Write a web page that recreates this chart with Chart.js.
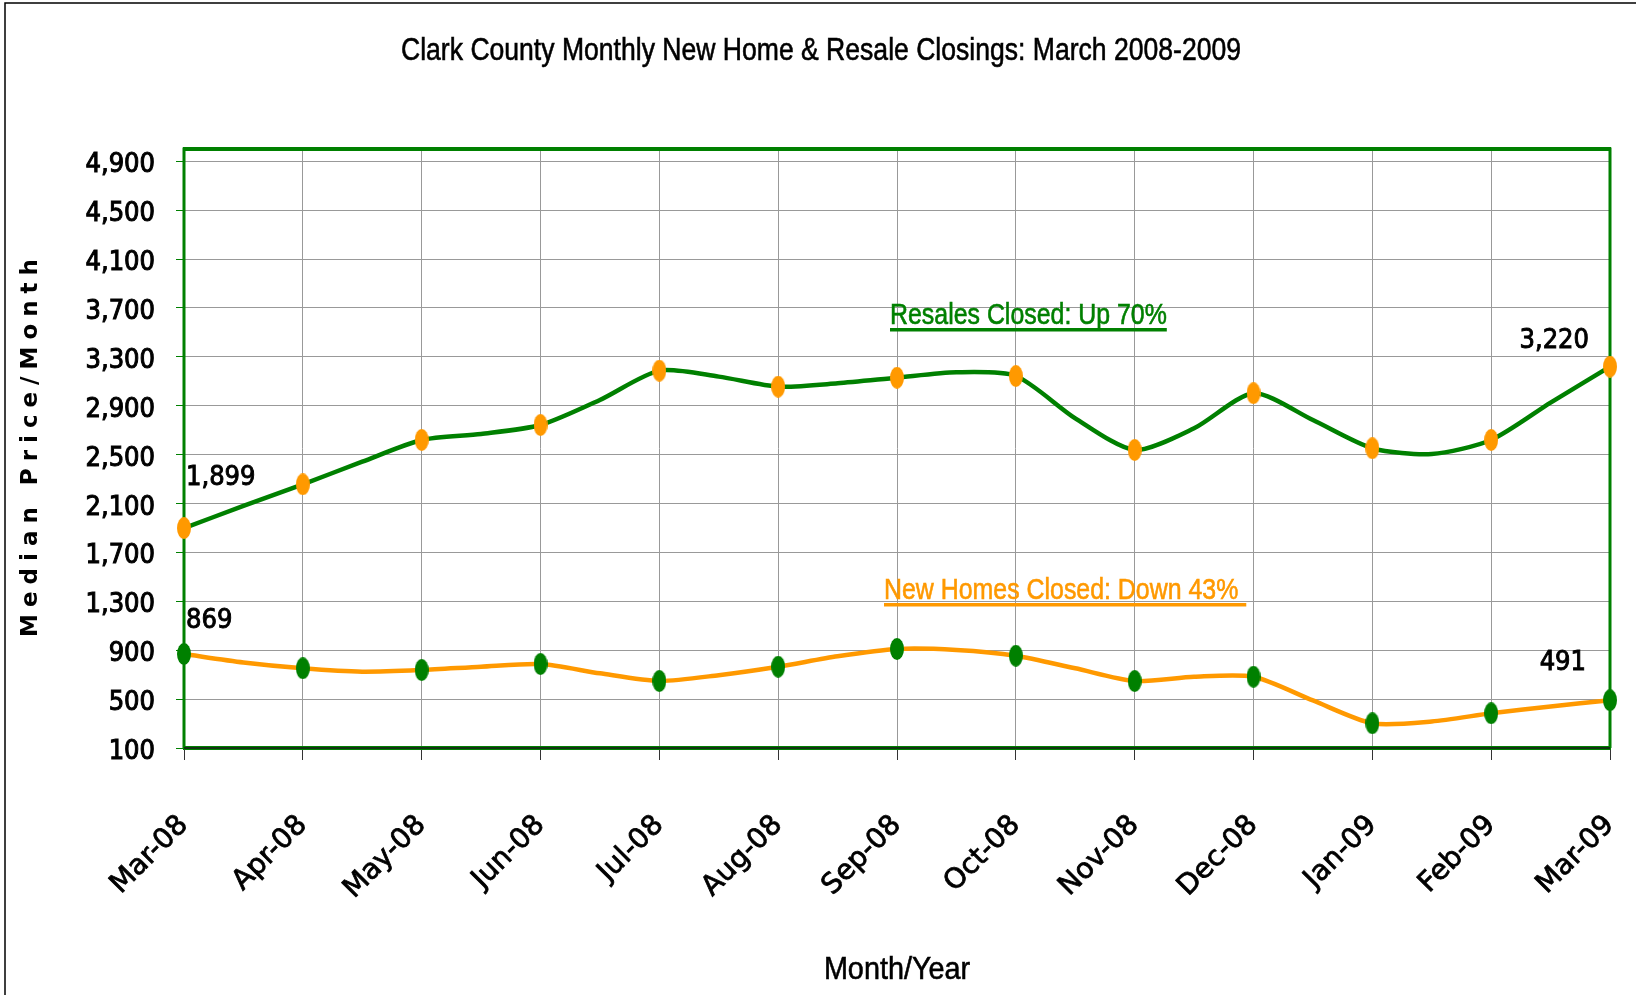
<!DOCTYPE html>
<html><head><meta charset="utf-8">
<script src="https://cdn.jsdelivr.net/npm/chart.js@4.4.1/dist/chart.umd.min.js"></script>
<style>html,body{margin:0;padding:0;background:#fff;overflow:hidden}canvas{display:block}</style>
</head><body>
<canvas id="c" width="1636" height="995"></canvas>
<script>
// ---- data ----
const months = ['Mar-08','Apr-08','May-08','Jun-08','Jul-08','Aug-08','Sep-08','Oct-08','Nov-08','Dec-08','Jan-09','Feb-09','Mar-09'];
const yTicks = [100,500,900,1300,1700,2100,2500,2900,3300,3700,4100,4500,4900];
const resalesMonthly = [1899,2257,2620,2742,3187,3056,3129,3143,2538,3002,2552,2620,3220];
const resalesMid     = [2080,2442,2669,2947,3138,3083,3173,2797,2715,2783,2505,2925];
const newHomesMonthly = [869,752,738,787,648,765,910,855,648,683,302,384,491];
const newHomesMid     = [800,724,765,711,696,850,902,752,683,489,317,440];
const chartTitle = 'Clark County Monthly New Home & Resale Closings: March 2008-2009';
const yTitle = 'Median Price/Month';
const xTitle = 'Month/Year';
const resalesNote = 'Resales Closed: Up 70%';
const newHomesNote = 'New Homes Closed: Down 43%';

const GREEN = '#008000', ORANGE = '#FF9900';
const SANS = '"Liberation Sans",Arial,sans-serif';
const COND = '"DejaVu Sans Condensed","DejaVu Sans",sans-serif';

function lineData(monthly, mid){
  const out = [];
  monthly.forEach((v,i)=>{ out.push({x:i,y:v}); if(i<mid.length) out.push({x:i+0.5,y:mid[i]}); });
  return out;
}
function markerData(monthly){ return monthly.map((v,i)=>({x:i,y:v})); }
function ellipse(color,w,h){
  const c=document.createElement('canvas'); c.width=w; c.height=h;
  const g=c.getContext('2d'); g.fillStyle=color; g.beginPath();
  g.ellipse(w/2,h/2,w/2,h/2,0,0,Math.PI*2); g.fill(); return c;
}
const orangeDot = ellipse(ORANGE,14,22);
const greenDot = ellipse(GREEN,14,22);

const fmt = v => v.toLocaleString('en-US');

// narrow text: Liberation Sans squeezed horizontally (Arial Narrow look)
function narrowText(ctx, txt, x, y, size, sx, align, color, stroke){
  ctx.save();
  ctx.font = size + 'px ' + SANS;
  ctx.fillStyle = color; ctx.strokeStyle = color;
  ctx.textBaseline = 'alphabetic';
  ctx.textAlign = 'left';
  const w = ctx.measureText(txt).width * sx;
  let x0 = x;
  if (align === 'center') x0 = x - w/2; else if (align === 'right') x0 = x - w;
  ctx.translate(x0, y); ctx.scale(sx, 1);
  ctx.fillText(txt, 0, 0);
  if (stroke) { ctx.lineWidth = stroke; ctx.strokeText(txt, 0, 0); }
  ctx.restore();
  return {x0, w};
}

const framePlugin = {
  id:'frame',
  beforeDatasetsDraw(chart){
    const {ctx, chartArea:a} = chart;
    ctx.save();
    ctx.strokeStyle = GREEN;
    ctx.lineWidth = 3;
    ctx.beginPath();
    ctx.moveTo(a.left, a.bottom); ctx.lineTo(a.left, a.top); ctx.lineTo(a.right, a.top); ctx.lineTo(a.right, a.bottom);
    ctx.stroke();
    ctx.lineWidth = 4; ctx.strokeStyle = GREEN;
    ctx.beginPath(); ctx.moveTo(a.left-1, a.bottom); ctx.lineTo(a.right+1, a.bottom); ctx.stroke();
    ctx.lineWidth = 1.5; ctx.strokeStyle = '#1a1a1a';
    ctx.beginPath(); ctx.moveTo(a.left, a.bottom); ctx.lineTo(a.right, a.bottom); ctx.stroke();
    ctx.lineWidth = 4; ctx.strokeStyle = GREEN;
    ctx.beginPath(); ctx.moveTo(a.left-1, a.top); ctx.lineTo(a.right+1, a.top); ctx.stroke();
    ctx.restore();
  },
  afterDraw(chart){
    const {ctx, chartArea:a} = chart;
    const xs = chart.scales.x, ys = chart.scales.y;
    ctx.save();
    // outer frame (top and left edges)
    ctx.strokeStyle = '#000'; ctx.lineWidth = 1.5;
    ctx.beginPath(); ctx.moveTo(5, 995); ctx.lineTo(5, 3); ctx.lineTo(1636, 3); ctx.stroke();
    // title
    narrowText(ctx, chartTitle, 821, 60, 32, 0.83, 'center', '#000', 0.6);
    // x title
    narrowText(ctx, xTitle, (a.left + a.right)/2, 979, 32, 0.9, 'center', '#000', 0.6);
    // y title
    ctx.save();
    ctx.fillStyle = '#000';
    ctx.translate(31, (a.top + a.bottom)/2);
    ctx.rotate(-Math.PI/2);
    ctx.font = 'bold 23px "DejaVu Sans",sans-serif';
    ctx.letterSpacing = '7px';
    ctx.textAlign = 'center'; ctx.textBaseline = 'middle';
    ctx.fillText(yTitle, 4, 0);
    ctx.restore();
    // data labels
    ctx.fillStyle = '#000'; ctx.strokeStyle = '#000'; ctx.lineWidth = 0.9;
    ctx.font = '27px ' + COND;
    ctx.textBaseline = 'alphabetic';
    const lbl = (t, x, y, al) => { ctx.textAlign = al; ctx.fillText(t, x, y); ctx.strokeText(t, x, y); };
    lbl(fmt(resalesMonthly[0]), xs.getPixelForValue(0) + 2, ys.getPixelForValue(resalesMonthly[0]) - 43, 'left');
    lbl(fmt(newHomesMonthly[0]), xs.getPixelForValue(0) + 2, ys.getPixelForValue(newHomesMonthly[0]) - 26, 'left');
    const last = months.length - 1;
    lbl(fmt(resalesMonthly[last]), xs.getPixelForValue(last) - 21, ys.getPixelForValue(resalesMonthly[last]) - 19, 'right');
    lbl(fmt(newHomesMonthly[last]), xs.getPixelForValue(last) - 24, ys.getPixelForValue(newHomesMonthly[last]) - 30, 'right');
    // notes
    const n1 = narrowText(ctx, resalesNote, xs.getPixelForValue(6) - 7, 324, 30, 0.83, 'left', GREEN, 0.6);
    ctx.fillStyle = GREEN; ctx.fillRect(n1.x0, 328, n1.w, 3.5);
    const n2 = narrowText(ctx, newHomesNote, xs.getPixelForValue(6) - 13, 599, 30, 0.83, 'left', ORANGE, 0.6);
    ctx.fillStyle = ORANGE; ctx.fillRect(n2.x0, 603, n2.w + 8, 3.5);
    ctx.restore();
  }
};

new Chart(document.getElementById('c'), {
  type:'line',
  data:{
    datasets:[
      { label:'Resale markers', data:markerData(resalesMonthly), showLine:false, pointStyle:orangeDot, pointRadius:7, pointHoverRadius:7, clip:false },
      { label:'New home markers', data:markerData(newHomesMonthly), showLine:false, pointStyle:greenDot, pointRadius:7, pointHoverRadius:7, clip:false },
      { label:'Resales Closed', data:lineData(resalesMonthly, resalesMid), borderColor:GREEN, borderWidth:4.5, pointRadius:0, tension:0.25, fill:false },
      { label:'New Homes Closed', data:lineData(newHomesMonthly, newHomesMid), borderColor:ORANGE, borderWidth:4.5, pointRadius:0, tension:0.25, fill:false }
    ]
  },
  options:{
    responsive:false, animation:false, devicePixelRatio:1,
    layout:{ padding:{ top:149, right:26, left:0, bottom:0 } },
    plugins:{ legend:{display:false}, title:{display:false}, tooltip:{enabled:false} },
    scales:{
      x:{
        type:'linear', min:0, max:months.length-1,
        afterBuildTicks: s => { s.ticks = months.map((m,i)=>({value:i})); },
        afterFit: s => { s.height = 247; s.paddingLeft = 0; s.paddingRight = 0; },
        ticks:{ callback: v => months[v], autoSkip:false, minRotation:45, maxRotation:45, padding:49, color:'#000',
                textStrokeColor:'#000', textStrokeWidth:0.8,
                font:{ family:'"DejaVu Sans",sans-serif', size:28 } },
        grid:{ color:'#999', lineWidth:1, tickLength:12, tickColor:'#333' },
        border:{ display:false }
      },
      y:{
        type:'linear', min:100, max:5000,
        afterBuildTicks: s => { s.ticks = yTicks.map(v=>({value:v})); },
        afterFit: s => { s.width = 184; },
        ticks:{ callback: v => fmt(v), padding:21, labelOffset:4, color:'#000', textStrokeColor:'#000', textStrokeWidth:1,
                font:{ family:COND, size:27 } },
        grid:{ color:'#999', lineWidth:1, tickLength:8, tickColor:GREEN },
        border:{ display:false }
      }
    }
  },
  plugins:[framePlugin]
});
</script>
</body></html>
